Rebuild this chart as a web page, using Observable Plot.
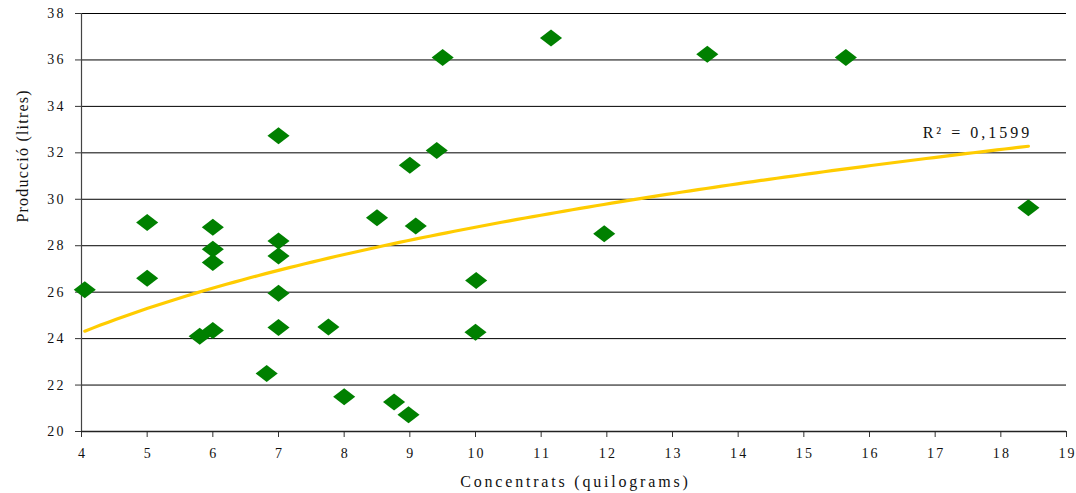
<!DOCTYPE html>
<html><head><meta charset="utf-8">
<script src="https://cdn.jsdelivr.net/npm/d3@7"></script>
<script src="https://cdn.jsdelivr.net/npm/@observablehq/plot@0.6"></script>
<style>
body{margin:0;background:#fff}
#chart svg{display:block}
</style>
</head><body><div id="chart"></div>
<script>
const concentrats = [4.05, 5, 5, 6, 6, 6, 6, 5.8, 7, 7, 7, 7, 7, 6.82, 7.76, 8, 8.5, 8.76, 8.98, 9, 9.41, 9.09, 9.5, 11.15, 10.01, 10, 11.96, 13.53, 15.64, 18.42];
const produccio   = [26.1, 29.0, 26.6, 28.8, 27.85, 27.28, 24.35, 24.1, 32.74, 28.2, 27.56, 25.95, 24.48, 22.5, 24.5, 21.5, 29.2, 21.27, 20.72, 31.46, 32.1, 28.85, 36.1, 36.95, 26.5, 24.27, 28.52, 36.24, 36.1, 29.64];
const xTicks = [4,5,6,7,8,9,10,11,12,13,14,15,16,17,18,19];
const yTicks = [20,22,24,26,28,30,32,34,36,38];
const xTitle = "Concentrats (quilograms)";
const yTitle = "Producció (litres)";
const r2Label = "R² = 0,1599";
const r2Pos = {x: 16.81, y: 32.84};

const data = concentrats.map((x, i) => ({x, y: produccio[i]}));

// Power trendline (least squares in log-log space), as a spreadsheet would fit it
const lx = data.map(d => Math.log(d.x)), ly = data.map(d => Math.log(d.y));
const mx = d3.mean(lx), my = d3.mean(ly);
const bCoef = d3.sum(lx, (v, i) => (v - mx) * (ly[i] - my)) / d3.sum(lx, v => (v - mx) ** 2);
const aCoef = Math.exp(my - bCoef * mx);
const [xMin, xMax] = d3.extent(concentrats);
const trend = d3.range(0, 121).map(i => {
  const x = xMin + (xMax - xMin) * i / 120;
  return {x, y: aCoef * Math.pow(x, bCoef)};
});

const wideDiamond = {
  draw(ctx, size) {
    const s = Math.sqrt(size / Math.PI);
    ctx.moveTo(-s * 1.3, 0);
    ctx.lineTo(0, -s);
    ctx.lineTo(s * 1.3, 0);
    ctx.lineTo(0, s);
    ctx.closePath();
  }
};

const plot = Plot.plot({
  width: 1076,
  height: 493,
  marginLeft: 81,
  marginRight: 10,
  marginTop: 13,
  marginBottom: 62,
  x: {domain: [4, 19]},
  y: {domain: [20, 38]},
  style: {fontFamily: "'Liberation Serif', 'Times New Roman', serif", fontSize: "14px", color: "#000", background: "#fff", overflow: "visible"},
  marks: [
    Plot.ruleY(yTicks.filter(v => v > 20), {y: d => d, stroke: "#000", strokeWidth: 1}),
    Plot.axisY({ticks: yTicks, tickSize: 6, tickPadding: 12, label: null, stroke: "#333", fontSize: 14}),
    Plot.axisX({ticks: xTicks, tickSize: 6, tickPadding: 11, label: null, stroke: "#333", fontSize: 14}),
    Plot.ruleX([4], {stroke: "#444", strokeWidth: 1.2}),
    Plot.ruleY([20], {stroke: "#222", strokeWidth: 1.4}),
    Plot.line(trend, {x: "x", y: "y", stroke: "#FFCC00", strokeWidth: 3.2}),
    Plot.dot(data, {x: "x", y: "y", symbol: wideDiamond, r: 8.5, fill: "#008000", stroke: "none"}),
    Plot.text([r2Label], {x: () => r2Pos.x, y: () => r2Pos.y, textAnchor: "start", lineAnchor: "middle", fontSize: 16, fill: "#111"}),
    Plot.text([xTitle], {frameAnchor: "bottom", dy: 50, lineAnchor: "middle", fontSize: 16, fill: "#111"}),
    Plot.text([yTitle], {frameAnchor: "left", dx: -59, rotate: -90, lineAnchor: "middle", fontSize: 16, fill: "#111"})
  ]
});

document.getElementById("chart").appendChild(plot);

// Spread characters apart (letter-spaced look of the original)
function spaceOut(el, px) {
  const n = el.textContent.length;
  if (n < 2) return;
  const vals = [0];
  for (let i = 1; i < n; i++) vals.push(px);
  el.setAttribute("dx", vals.join(" "));
}
const tickSet = new Set([...yTicks, ...xTicks].map(String));
d3.select(plot).selectAll("text").each(function() {
  const t = this.textContent;
  if (tickSet.has(t)) { spaceOut(this, 2.2); this.style.fill = "#111"; }
  else if (t === r2Label) spaceOut(this, 3);
  else if (t === xTitle) spaceOut(this, 2.8);
  else if (t === yTitle) spaceOut(this, 1.2);
});
</script>
</body></html>
